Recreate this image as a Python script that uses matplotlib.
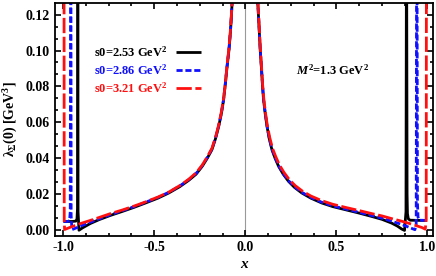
import matplotlib
matplotlib.use("Agg")
import matplotlib.pyplot as plt
from matplotlib.ticker import MultipleLocator, AutoMinorLocator, FormatStrFormatter

plt.rcParams["font.family"] = ["Liberation Serif", "DejaVu Serif"]
plt.rcParams["font.weight"] = "bold"
plt.rcParams["mathtext.fontset"] = "custom"
plt.rcParams["mathtext.rm"] = "Liberation Serif:bold"
plt.rcParams["mathtext.it"] = "Liberation Serif:italic:bold"
plt.rcParams["mathtext.bf"] = "Liberation Serif:bold"

labels = ["s0=2.53 GeV$^{2}$", "s0=2.86 GeV$^{2}$", "s0=3.21 GeV$^{2}$"]
colors = ["black", "#1010ff", "#ff1010"]

# s0 = 2.53 : main branch (left / right of x=0) and branch beyond the pole
black_left_x = [-0.919, -0.918, -0.913, -0.894, -0.85, -0.803, -0.74, -0.675, -0.61, -0.548,
                -0.48, -0.42, -0.36, -0.31, -0.27, -0.237, -0.208, -0.183, -0.163, -0.146,
                -0.131, -0.119, -0.109, -0.100, -0.090, -0.082, -0.077, -0.073, -0.070]
black_left_y = [0.13, 0.010, -0.0003, 0.0010, 0.0035, 0.0056, 0.0080, 0.0102, 0.0125, 0.0149,
                0.0176, 0.0205, 0.0240, 0.0276, 0.0310, 0.0353, 0.0400, 0.0447, 0.0510, 0.0577,
                0.0650, 0.0726, 0.0820, 0.0911, 0.1000, 0.1098, 0.1180, 0.1256, 0.13]
black_right_x = [0.066, 0.069, 0.073, 0.077, 0.082, 0.088, 0.094, 0.100, 0.109, 0.119,
                 0.131, 0.146, 0.163, 0.183, 0.208, 0.237, 0.270, 0.310, 0.36, 0.42,
                 0.48, 0.548, 0.62, 0.694, 0.75, 0.803, 0.835, 0.858, 0.874, 0.882, 0.884]
black_right_y = [0.13, 0.1256, 0.118, 0.110, 0.100, 0.091, 0.081, 0.0726, 0.065, 0.0577,
                 0.051, 0.0447, 0.040, 0.0353, 0.031, 0.0270, 0.0236, 0.0205, 0.0176, 0.0149,
                 0.0129, 0.0112, 0.0094, 0.0074, 0.0058, 0.0037, 0.0020, 0.0004, -0.0004, 0.010, 0.13]
black_outer_l_x = [-0.998, -0.95, -0.93, -0.924, -0.921, -0.920]
black_outer_l_y = [0.0046, 0.0046, 0.0048, 0.006, 0.012, 0.13]
black_outer_r_x = [0.886, 0.888, 0.890, 0.895, 0.905, 0.95, 0.998]
black_outer_r_y = [0.13, 0.02, 0.009, 0.0060, 0.0053, 0.0052, 0.0052]

# s0 = 2.86
blue_left_x = [-0.957, -0.956, -0.952, -0.94, -0.90, -0.85, -0.803, -0.74, -0.675, -0.61, -0.548,
               -0.48, -0.42, -0.36, -0.31, -0.27, -0.237, -0.208, -0.183, -0.163, -0.146,
               -0.131, -0.119, -0.109, -0.100, -0.090, -0.082, -0.077, -0.073, -0.070]
blue_left_y = [0.13, 0.008, 0.0, 0.0005, 0.0022, 0.0042, 0.0060, 0.0084, 0.0106, 0.0129, 0.0153,
               0.0180, 0.0209, 0.0244, 0.0280, 0.0314, 0.0357, 0.0404, 0.0451, 0.0514, 0.0581,
               0.0654, 0.0730, 0.0824, 0.0915, 0.1004, 0.1102, 0.1184, 0.1260, 0.13]
blue_right_x = [0.066, 0.069, 0.073, 0.077, 0.082, 0.088, 0.094, 0.100, 0.109, 0.119,
                0.131, 0.146, 0.163, 0.183, 0.208, 0.237, 0.270, 0.310, 0.36, 0.42,
                0.48, 0.548, 0.62, 0.694, 0.75, 0.803, 0.86, 0.90, 0.931, 0.938, 0.940]
blue_right_y = [0.13, 0.1260, 0.1184, 0.1104, 0.1004, 0.0914, 0.0814, 0.0730, 0.0654, 0.0581,
                0.0514, 0.0451, 0.0404, 0.0357, 0.0314, 0.0274, 0.0240, 0.0209, 0.0180, 0.0153,
                0.0133, 0.0116, 0.0098, 0.0079, 0.0064, 0.0048, 0.0029, 0.0013, 0.0, 0.003, 0.13]
blue_outer_l_x = [-0.998, -0.975, -0.965, -0.961, -0.959]
blue_outer_l_y = [0.0046, 0.0046, 0.0050, 0.010, 0.13]
blue_outer_r_x = [0.943, 0.945, 0.948, 0.955, 0.998]
blue_outer_r_y = [0.13, 0.015, 0.007, 0.0053, 0.0052]

# s0 = 3.21
red_left_x = [-0.995, -0.994, -0.992, -0.95, -0.90, -0.85, -0.803, -0.74, -0.675, -0.61, -0.548,
              -0.48, -0.42, -0.36, -0.31, -0.27, -0.237, -0.208, -0.183, -0.163, -0.146,
              -0.131, -0.119, -0.109, -0.100, -0.090, -0.082, -0.077, -0.073, -0.070]
red_left_y = [0.13, 0.005, 0.0001, 0.0018, 0.0036, 0.0052, 0.0068, 0.0090, 0.0110, 0.0132, 0.0155,
              0.0182, 0.0210, 0.0246, 0.0282, 0.0318, 0.0360, 0.0408, 0.0455, 0.0518, 0.0585,
              0.0660, 0.0735, 0.0820, 0.0920, 0.1010, 0.1110, 0.1190, 0.1260, 0.13]
red_right_x = [0.067, 0.070, 0.074, 0.078, 0.083, 0.089, 0.095, 0.102, 0.111, 0.121,
               0.134, 0.149, 0.167, 0.187, 0.212, 0.241, 0.274, 0.314, 0.36, 0.42,
               0.48, 0.548, 0.62, 0.694, 0.75, 0.803, 0.86, 0.90, 0.94, 0.97, 0.988, 0.993, 0.994]
red_right_y = [0.13, 0.1256, 0.118, 0.110, 0.100, 0.091, 0.081, 0.0726, 0.065, 0.0580,
               0.0515, 0.0455, 0.0408, 0.0362, 0.0320, 0.0280, 0.0246, 0.0215, 0.0188, 0.0162,
               0.0142, 0.0125, 0.0108, 0.0090, 0.0077, 0.0062, 0.0047, 0.0035, 0.0022, 0.0012,
               0.0003, 0.006, 0.13]

fig = plt.figure(figsize=(4.36, 2.76), dpi=100)
ax = fig.add_axes([0.126, 0.145, 0.867, 0.844])

ax.axvline(0, color="#999999", lw=0.8, zorder=0)

lw = 2.0
black_style = dict(color=colors[0], lw=lw, solid_capstyle="butt")
blue_style = dict(color=colors[1], lw=lw, dashes=(2.2, 1.0))
red_style = dict(color=colors[2], lw=lw, dashes=(5.5, 1.3))

ax.plot(black_left_x, black_left_y, **black_style)
ax.plot(black_right_x, black_right_y, label=labels[0], **black_style)
ax.plot(black_outer_l_x, black_outer_l_y, **black_style)
ax.plot(black_outer_r_x, black_outer_r_y, **black_style)

ax.plot(blue_left_x, blue_left_y, **blue_style)
ax.plot(blue_right_x, blue_right_y, label=labels[1], **blue_style)
ax.plot(blue_outer_l_x, blue_outer_l_y, **blue_style)
ax.plot(blue_outer_r_x, blue_outer_r_y, **blue_style)

ax.plot(red_left_x, red_left_y, **red_style)
ax.plot(red_right_x, red_right_y, label=labels[2], **red_style)

ax.set_xlim(-1.045, 1.03)
ax.set_ylim(-0.0035, 0.1265)

ax.xaxis.set_major_locator(MultipleLocator(0.5))
ax.xaxis.set_minor_locator(MultipleLocator(0.125))
ax.yaxis.set_major_locator(MultipleLocator(0.02))
ax.yaxis.set_minor_locator(AutoMinorLocator(3))
ax.tick_params(which="both", direction="in", top=True, right=True, labelsize=10, width=1.2)
ax.tick_params(which="major", length=4)
ax.tick_params(which="minor", length=2)
ax.xaxis.set_major_formatter(FormatStrFormatter("%.1f"))
ax.yaxis.set_major_formatter(FormatStrFormatter("%.2f"))
for s in ax.spines.values():
    s.set_linewidth(1.3)

ax.set_xlabel("x", fontsize=11, style="italic", fontweight="bold", labelpad=3)
ax.set_ylabel("λ$_{Σ}$(0) [GeV$^{3}$]", fontsize=10, fontweight="bold", labelpad=4)

leg = ax.legend(loc="upper right", bbox_to_anchor=(0.415, 0.87), frameon=False,
                markerfirst=False, handlelength=2.0, handletextpad=0.6, labelspacing=0.3,
                prop=dict(family="Liberation Serif", weight="bold", size=9),
                labelcolor="linecolor")

ax.text(0.735, 0.71, "$M^{2}$=1.3 GeV$^{2}$", transform=ax.transAxes, ha="center",
        va="center", fontsize=9, fontweight="bold")

fig.savefig("out.png", dpi=100)
